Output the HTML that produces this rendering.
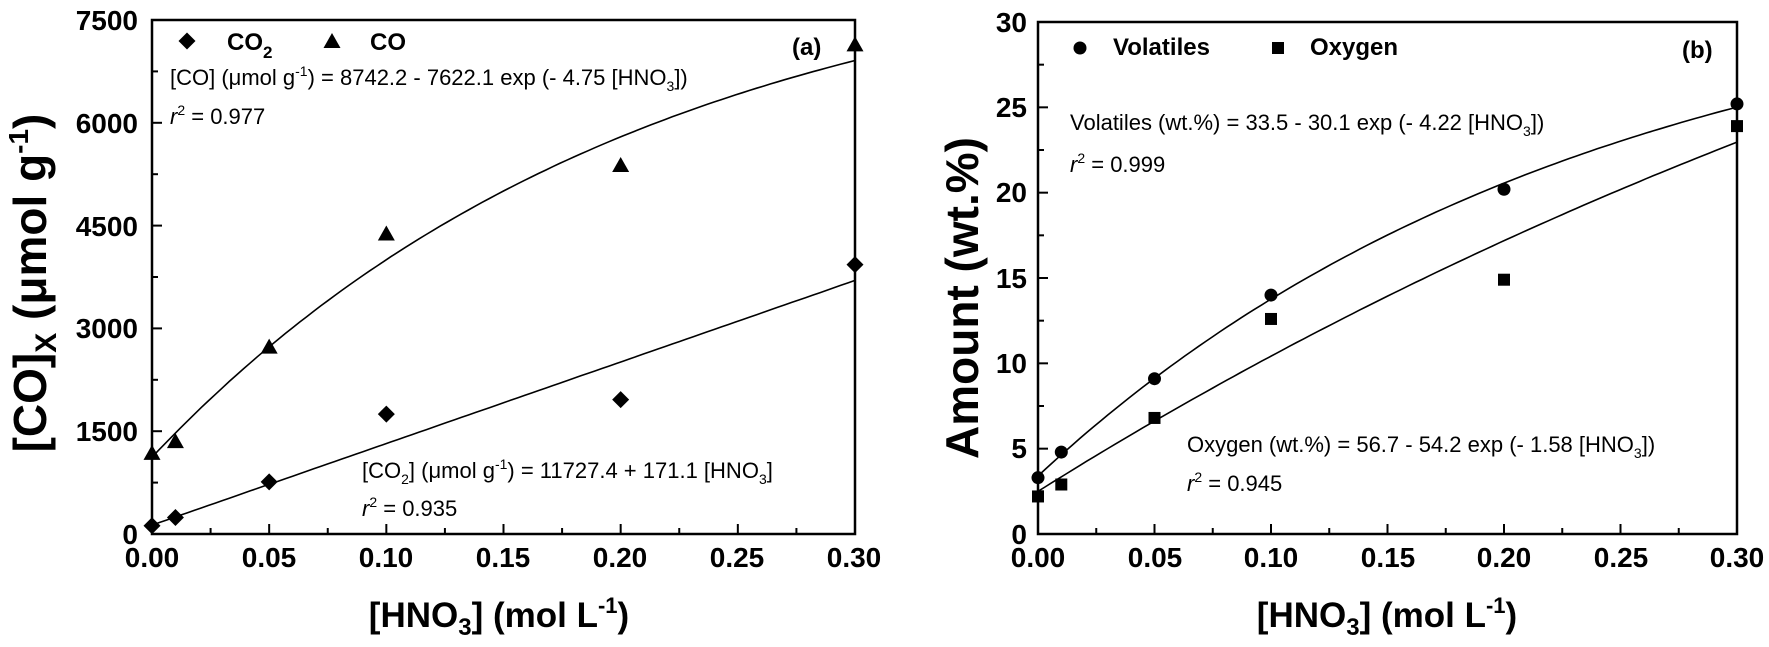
<!DOCTYPE html>
<html><head><meta charset="utf-8"><style>
body{margin:0;background:#fff}
svg text{font-family:"Liberation Sans",Arial,sans-serif;fill:#000}
.t{font-weight:bold;font-size:28px}
.ax{font-weight:bold;font-size:35px}
.ay{font-weight:bold;font-size:46px}
.eq{font-size:22px}
.lg{font-weight:bold;font-size:24px}
</style></head><body>
<svg id="s" width="1769" height="642" xmlns="http://www.w3.org/2000/svg">
<g fill="none" stroke="#000" stroke-width="2.5">
<rect x="152" y="20" width="703" height="514"/>
<rect x="1038" y="22" width="699" height="512"/>
</g>
<g id="ticks" stroke="#000" stroke-width="2"></g>
<g id="curves" fill="none" stroke="#000" stroke-width="1.6"></g>
<g id="marks" fill="#000"></g>
<!-- panel a tick labels -->
<g class="t" text-anchor="end">
<text x="138" y="30">7500</text><text x="138" y="133">6000</text><text x="138" y="236">4500</text>
<text x="138" y="338">3000</text><text x="138" y="441">1500</text><text x="138" y="544">0</text>
</g>
<g class="t" text-anchor="middle">
<text x="152" y="567">0.00</text><text x="269" y="567">0.05</text><text x="386" y="567">0.10</text>
<text x="503" y="567">0.15</text><text x="620" y="567">0.20</text><text x="737" y="567">0.25</text><text x="854" y="567">0.30</text>
</g>
<text class="ax" text-anchor="middle" x="499" y="627">[HNO<tspan font-size="24" dy="8">3</tspan><tspan dy="-8">] (mol L</tspan><tspan font-size="22" dy="-14">-1</tspan><tspan dy="14">)</tspan></text>
<text class="ay" text-anchor="middle" transform="translate(46,283) rotate(-90)">[CO]<tspan font-size="30" dy="10">X</tspan><tspan dy="-10"> (μmol g</tspan><tspan font-size="28" dy="-18">-1</tspan><tspan dy="18">)</tspan></text>
<text class="lg" x="227" y="50">CO<tspan font-size="17" dy="8">2</tspan></text>
<text class="lg" x="370" y="50">CO</text>
<text class="lg" x="792" y="55" font-size="30">(a)</text>
<text class="eq" x="170" y="85">[CO] (μmol g<tspan font-size="14" dy="-9">-1</tspan><tspan dy="9">) = 8742.2 - 7622.1 exp (- 4.75 [HNO</tspan><tspan font-size="14" dy="6">3</tspan><tspan dy="-6">])</tspan></text>
<text class="eq" x="170" y="124"><tspan font-style="italic">r</tspan><tspan font-size="14" dy="-9">2</tspan><tspan dy="9"> = 0.977</tspan></text>
<text class="eq" x="362" y="478">[CO<tspan font-size="14" dy="6">2</tspan><tspan dy="-6">] (μmol g</tspan><tspan font-size="14" dy="-9">-1</tspan><tspan dy="9">) = 11727.4 + 171.1 [HNO</tspan><tspan font-size="14" dy="6">3</tspan><tspan dy="-6">]</tspan></text>
<text class="eq" x="362" y="516"><tspan font-style="italic">r</tspan><tspan font-size="14" dy="-9">2</tspan><tspan dy="9"> = 0.935</tspan></text>
<!-- panel b -->
<g class="t" text-anchor="end">
<text x="1027" y="32">30</text><text x="1027" y="117">25</text><text x="1027" y="202">20</text>
<text x="1027" y="288">15</text><text x="1027" y="373">10</text><text x="1027" y="458">5</text><text x="1027" y="544">0</text>
</g>
<g class="t" text-anchor="middle">
<text x="1038" y="567">0.00</text><text x="1155" y="567">0.05</text><text x="1271" y="567">0.10</text>
<text x="1388" y="567">0.15</text><text x="1504" y="567">0.20</text><text x="1621" y="567">0.25</text><text x="1737" y="567">0.30</text>
</g>
<text class="ax" text-anchor="middle" x="1387" y="627">[HNO<tspan font-size="24" dy="8">3</tspan><tspan dy="-8">] (mol L</tspan><tspan font-size="22" dy="-14">-1</tspan><tspan dy="14">)</tspan></text>
<text class="ay" text-anchor="middle" transform="translate(978,298) rotate(-90)">Amount (wt.%)</text>
<text class="lg" x="1113" y="55">Volatiles</text>
<text class="lg" x="1310" y="55">Oxygen</text>
<text class="lg" x="1682" y="58" font-size="30">(b)</text>
<text class="eq" x="1070" y="130">Volatiles (wt.%) = 33.5 - 30.1 exp (- 4.22 [HNO<tspan font-size="14" dy="6">3</tspan><tspan dy="-6">])</tspan></text>
<text class="eq" x="1070" y="172"><tspan font-style="italic">r</tspan><tspan font-size="14" dy="-9">2</tspan><tspan dy="9"> = 0.999</tspan></text>
<text class="eq" x="1187" y="452">Oxygen (wt.%) = 56.7 - 54.2 exp (- 1.58 [HNO<tspan font-size="14" dy="6">3</tspan><tspan dy="-6">])</tspan></text>
<text class="eq" x="1187" y="491"><tspan font-style="italic">r</tspan><tspan font-size="14" dy="-9">2</tspan><tspan dy="9"> = 0.945</tspan></text>
</svg>
<script>
var NS="http://www.w3.org/2000/svg";
function el(g,t,a){var e=document.createElementNS(NS,t);for(var k in a)e.setAttribute(k,a[k]);document.getElementById(g).appendChild(e);}
function P(L,R,T,B,ymax){return {x:function(v){return L+(R-L)*v/0.3},y:function(v){return B-(B-T)*v/ymax}};}
var A=P(152,855,20,534,7500),Bp=P(1038,1737,22,534,30);
for(var i=0;i<=12;i++){var xa=A.x(i*0.025),xb=Bp.x(i*0.025),l=i%2?6:10;
el("ticks","line",{x1:xa,y1:534,x2:xa,y2:534-l});el("ticks","line",{x1:xb,y1:534,x2:xb,y2:534-l});}
for(var i=0;i<=10;i++){var ya=A.y(i*750),l=i%2?6:10;el("ticks","line",{x1:152,y1:ya,x2:152+l,y2:ya});}
for(var i=0;i<=12;i++){var yb=Bp.y(i*2.5),l=i%2?6:10;el("ticks","line",{x1:1038,y1:yb,x2:1038+l,y2:yb});}
function curve(p,f){var d="";for(var i=0;i<=100;i++){var x=0.3*i/100;d+=(i?"L":"M")+p.x(x).toFixed(1)+","+p.y(f(x)).toFixed(1);}el("curves","path",{d:d});}
curve(A,function(x){return 8742.2-7622.1*Math.exp(-4.75*x)});
curve(A,function(x){return 130+11900*x});
curve(Bp,function(x){return 33.5-30.1*Math.exp(-4.22*x)});
curve(Bp,function(x){return 56.7-54.2*Math.exp(-1.58*x)});
function dia(x,y){el("marks","polygon",{points:(x)+","+(y-8.5)+" "+(x+8.5)+","+y+" "+x+","+(y+8.5)+" "+(x-8.5)+","+y});}
function tri(x,y){el("marks","polygon",{points:x+","+(y-9)+" "+(x+8.5)+","+(y+6)+" "+(x-8.5)+","+(y+6)});}
function cir(x,y){el("marks","circle",{cx:x,cy:y,r:6.5});}
function sq(x,y){el("marks","rect",{x:x-6,y:y-6,width:12,height:12});}
var xs=[0,0.01,0.05,0.1,0.2,0.3];
[120,240,760,1750,1960,3930].forEach(function(v,i){dia(A.x(xs[i]),A.y(v))});
[1170,1340,2720,4370,5370,7130].forEach(function(v,i){tri(A.x(xs[i]),A.y(v))});
[3.3,4.8,9.1,14,20.2,25.2].forEach(function(v,i){cir(Bp.x(xs[i]),Bp.y(v))});
[2.2,2.9,6.8,12.6,14.9,23.9].forEach(function(v,i){sq(Bp.x(xs[i]),Bp.y(v))});
dia(187,41);tri(332,42);cir(1080,48);sq(1278,48);
</script>
</body></html>
